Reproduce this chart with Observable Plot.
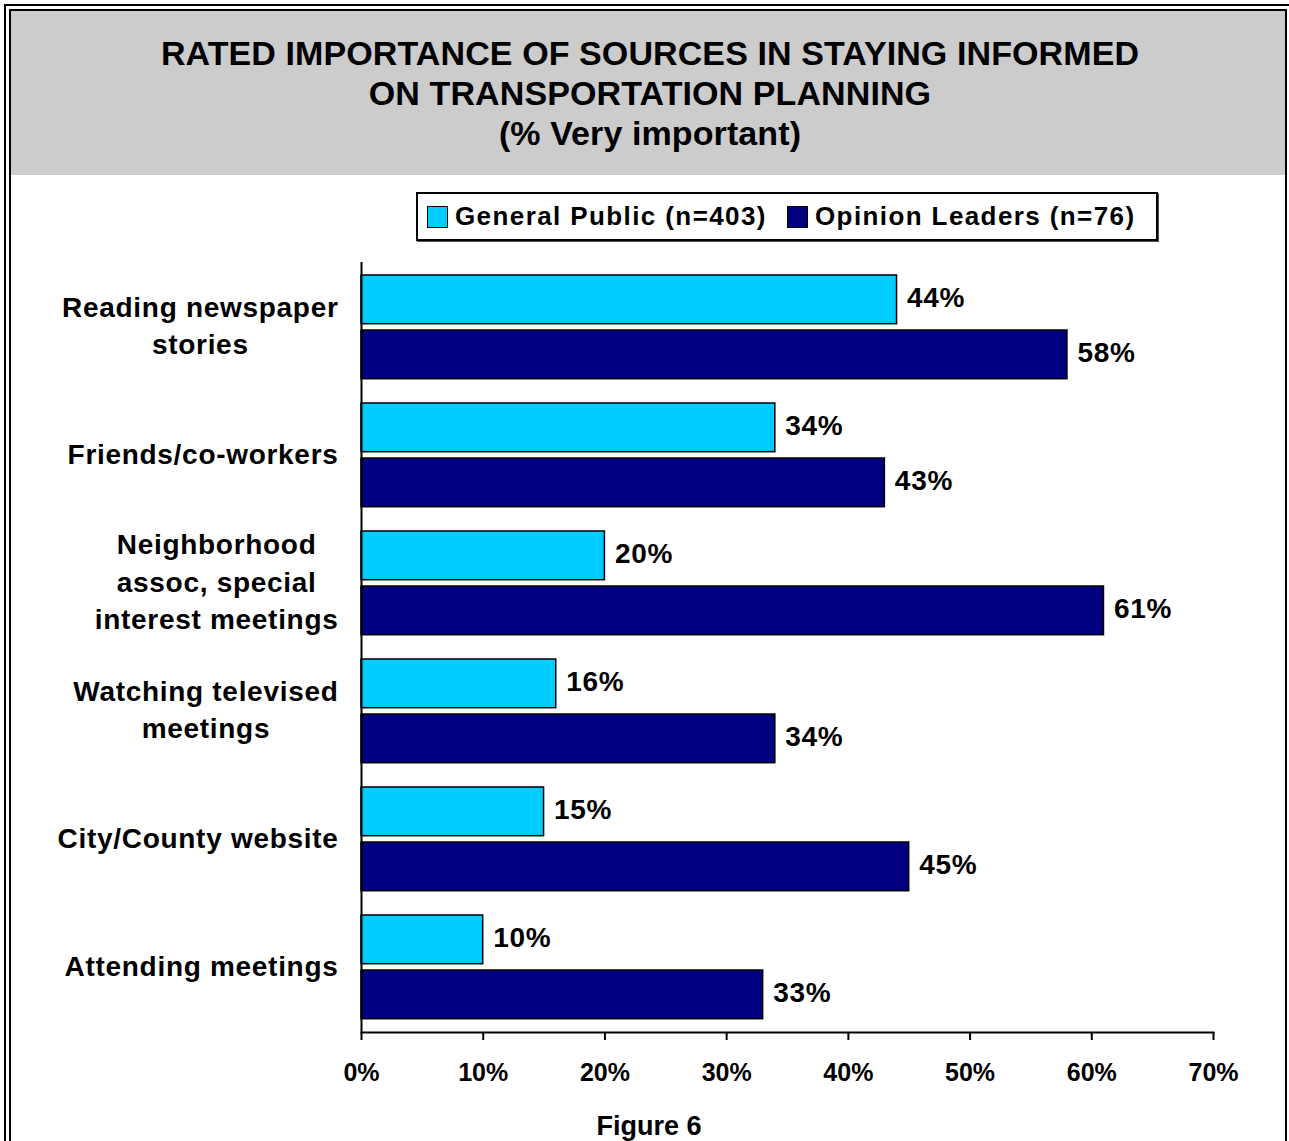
<!DOCTYPE html>
<html>
<head>
<meta charset="utf-8">
<script src="https://cdn.jsdelivr.net/npm/d3@7"></script>
<script src="https://cdn.jsdelivr.net/npm/@observablehq/plot@0.6"></script>
<style>
  html, body { margin: 0; padding: 0; background: #fff; }
  #page { position: relative; width: 1289px; height: 1141px; overflow: hidden; background: #fff;
          font-family: "Liberation Sans", Arial, sans-serif; color: #000; }
  .outer { position: absolute; left: 4px; top: 4px; width: 1400px; height: 1300px;
           border-left: 2.5px solid #000; border-top: 2.5px solid #000; }
  .inner { position: absolute; left: 9px; top: 9px; width: 1274px; height: 1300px;
           border: 2px solid #000; }
  .titlebg { position: absolute; left: 11px; top: 11px; width: 1274px; height: 164px; background: #cccccc; }
  .title { position: absolute; left: 11px; top: 33px; width: 1278px; text-align: center;
           font-weight: bold; font-size: 34px; line-height: 40px; letter-spacing: 0.1px; }
  .legend { position: absolute; left: 416px; top: 192px; width: 738px; height: 45px;
            border: 2px solid #000; background: #fff; box-shadow: 1px 1px 0 #555; }
  .sw { position: absolute; top: 12px; width: 19px; height: 20px; border: 1.5px solid #000; }
  .lt { position: absolute; top: 0; height: 45px; line-height: 45px; font-weight: bold; font-size: 26px;
        letter-spacing: 1.4px; white-space: nowrap; }
  .caption { position: absolute; left: 0; width: 1298px; top: 1113px; text-align: center;
             font-weight: bold; font-size: 27px; line-height: 27px; }
  #chart { position: absolute; left: 12px; top: 250px; }
  #chart svg { background: transparent !important; overflow: visible; }
  #chart g[aria-label="text"] text { letter-spacing: 0.7px; }
</style>
</head>
<body>
<div id="page">
  <div class="outer"></div>
  <div class="inner"></div>
  <div class="titlebg"></div>
  <div class="title" id="title"></div>
  <div class="legend" id="legend"></div>
  <div id="chart"></div>
  <div class="caption" id="caption"></div>
</div>
<script>
// ---- data ----
const titleLines = ["RATED IMPORTANCE OF SOURCES IN STAYING INFORMED", "ON TRANSPORTATION PLANNING", "(% Very important)"];
const captionText = "Figure 6";
const categories = [
  "Reading newspaper\nstories",
  "Friends/co-workers",
  "Neighborhood\nassoc, special\ninterest meetings",
  "Watching televised\nmeetings",
  "City/County website",
  "Attending meetings"
];
const seriesNames = ["General Public (n=403)", "Opinion Leaders (n=76)"];
const seriesColors = ["#00CCFF", "#000080"];
const generalPublic = [44, 34, 20, 16, 15, 10];
const opinionLeaders = [58, 43, 61, 34, 45, 33];
const xTicks = [0, 10, 20, 30, 40, 50, 60, 70];

// ---- title, legend, caption ----
document.getElementById("title").innerHTML = titleLines.join("<br>");
document.getElementById("caption").textContent = captionText;
const legend = document.getElementById("legend");
const swLeft = [9, 369], txtLeft = [37, 397];
seriesNames.forEach((s, i) => {
  const sw = document.createElement("div");
  sw.className = "sw"; sw.style.left = swLeft[i] + "px"; sw.style.background = seriesColors[i];
  legend.appendChild(sw);
  const t = document.createElement("div");
  t.className = "lt"; t.style.left = txtLeft[i] + "px"; t.textContent = s;
  legend.appendChild(t);
});

// ---- table ----
const rows = categories.flatMap((c, i) => [
  {cat: c, series: seriesNames[0], value: generalPublic[i]},
  {cat: c, series: seriesNames[1], value: opinionLeaders[i]}
]);
const gp = rows.filter(d => d.series === seriesNames[0]);
const ol = rows.filter(d => d.series === seriesNames[1]);

const font = "'Liberation Sans', Arial, sans-serif";
const chart = Plot.plot({
  width: 1272,
  height: 850,
  marginLeft: 349,
  marginRight: 71,
  marginTop: 12,
  marginBottom: 68,
  style: {fontFamily: font, background: "transparent", color: "#000"},
  x: {domain: [0, 70], axis: null, label: null},
  y: {domain: categories, padding: 0, axis: null, label: null},
  color: {domain: seriesNames, range: seriesColors},
  marks: [
    Plot.text(categories, {y: d => d, text: d => d, frameAnchor: "left", dx: -23, dy: -4, textAnchor: "end",
      fontSize: 28, fontWeight: "bold", lineHeight: 1.34, fill: "#000"}),
    Plot.barX(gp, {x: "value", y: "cat", fill: "series", stroke: "#000", strokeWidth: 1.5,
      insetTop: 12, insetBottom: 67.3}),
    Plot.barX(ol, {x: "value", y: "cat", fill: "series", stroke: "#000", strokeWidth: 1.5,
      insetTop: 67, insetBottom: 12.3}),
    Plot.text(gp, {x: "value", y: "cat", text: d => d.value + "%", dx: 10, dy: -29.5, textAnchor: "start",
      fontSize: 28, fontWeight: "bold", fill: "#000"}),
    Plot.text(ol, {x: "value", y: "cat", text: d => d.value + "%", dx: 10, dy: 25.5, textAnchor: "start",
      fontSize: 28, fontWeight: "bold", fill: "#000"}),
    Plot.ruleX([0], {stroke: "#000", strokeWidth: 2}),
    Plot.frame({anchor: "bottom", stroke: "#000", strokeWidth: 2}),
    Plot.axisX({ticks: xTicks, tickFormat: d => d + "%", tickSize: 8, tickPadding: 23, label: null,
      fontSize: 25, fontWeight: "bold", stroke: "#000", strokeWidth: 2, fill: "#000"})
  ]
});
document.getElementById("chart").appendChild(chart);

// center multi-line category labels while keeping their right edge
const labelGroup = chart.querySelector('g[aria-label="text"]');
if (labelGroup) {
  labelGroup.querySelectorAll("text").forEach(el => {
    const w = el.getBBox().width;
    el.setAttribute("text-anchor", "middle");
    const t = el.getAttribute("transform") || "";
    el.setAttribute("transform", (t + ` translate(${-w / 2},0)`).trim());
  });
}
</script>
</body>
</html>
